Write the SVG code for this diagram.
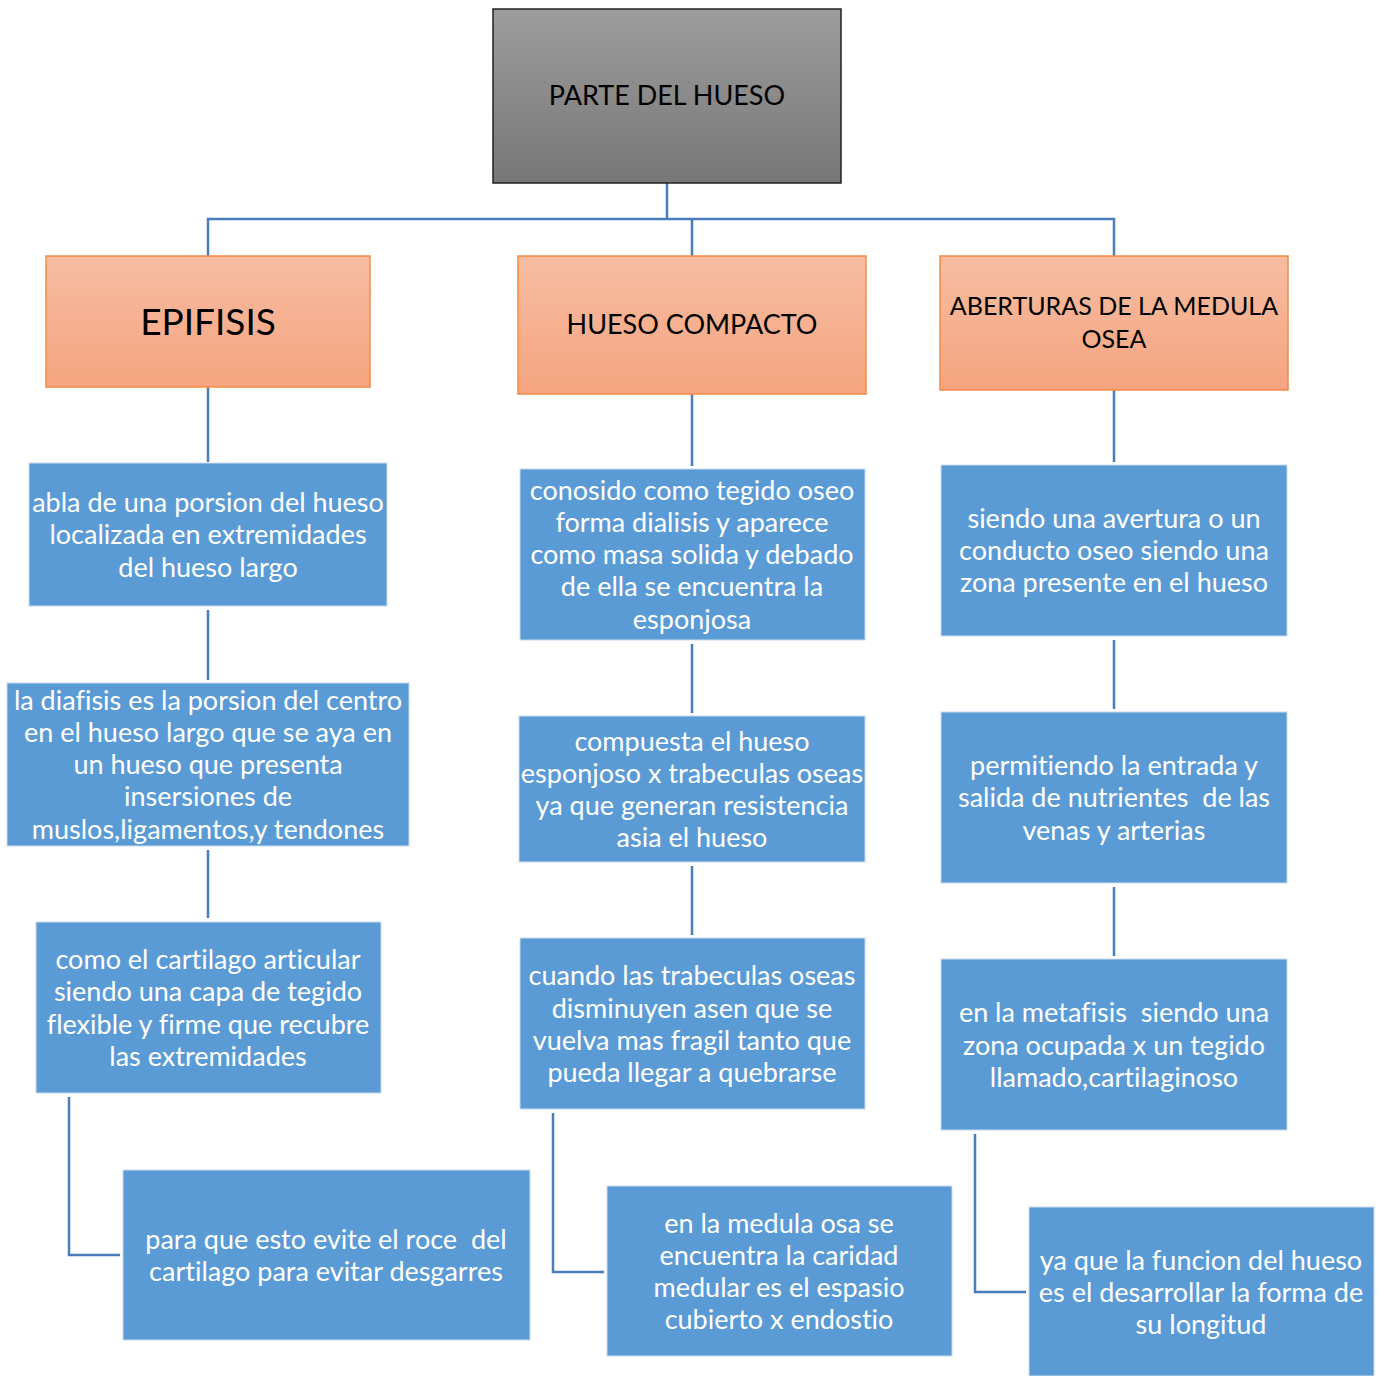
<svg xmlns="http://www.w3.org/2000/svg" width="1384" height="1376" viewBox="0 0 1384 1376">
<defs>
<linearGradient id="gray" x1="0" y1="0" x2="0" y2="1"><stop offset="0" stop-color="#9d9d9d"/><stop offset="1" stop-color="#777777"/></linearGradient>
<linearGradient id="orange" x1="0" y1="0" x2="0" y2="1"><stop offset="0" stop-color="#f6bda2"/><stop offset="1" stop-color="#f5a47f"/></linearGradient>
<style>
.t{font-family:Lato,"Open Sans","Liberation Sans",sans-serif;text-anchor:middle;dominant-baseline:central;white-space:pre;font-variant-ligatures:none}
.w{fill:#ffffff;font-size:27px}
.k{fill:#000000}
.blue{fill:#5b9bd5;stroke:#c9dcef;stroke-width:1}
.or{fill:url(#orange);stroke:#f08c46;stroke-width:1.5}
.c{fill:none;stroke:#4a7ebb;stroke-width:2.5}
</style>
</defs>
<g id="connectors">
<path class="c" d="M667 183V219M208 256V219H1114V256M692 219V256"/>
<path class="c" d="M208 387V462M208 610V680M208 850V918M69 1097V1255H120"/>
<path class="c" d="M692 394V466M692 644V713M692 866V935M553 1113V1272H604"/>
<path class="c" d="M1114 390V462M1114 640V709M1114 887V956M975 1134V1292H1026"/>
</g>
<g id="root"><rect x="493" y="9" width="348" height="174" fill="url(#gray)" stroke="#222" stroke-width="1.5"/><text class="t k" x="667" y="94" font-size="27">PARTE DEL HUESO</text></g>
<g id="epifisis"><rect class="or" x="46" y="256" width="324" height="131"/><text class="t k" x="208" y="320" font-size="37">EPIFISIS</text></g>
<g id="compacto"><rect class="or" x="518" y="256" width="348" height="138"/><text class="t k" x="692" y="323" font-size="27">HUESO COMPACTO</text></g>
<g id="aberturas"><rect class="or" x="940" y="256" width="348" height="134"/><text class="t k" x="1114" y="305" font-size="25">ABERTURAS DE LA MEDULA</text><text class="t k" x="1114" y="338" font-size="25">OSEA</text></g>
<g id="l1"><rect class="blue" x="29" y="463" width="358" height="143"/><text class="t w"><tspan x="208" y="501">abla de una porsion del hueso</tspan><tspan x="208" y="533">localizada en extremidades</tspan><tspan x="208" y="566">del hueso largo</tspan></text></g>
<g id="l2"><rect class="blue" x="7" y="683" width="402" height="163"/><text class="t w"><tspan x="208" y="699">la diafisis es la porsion del centro</tspan><tspan x="208" y="731">en el hueso largo que se aya en</tspan><tspan x="208" y="763">un hueso que presenta</tspan><tspan x="208" y="795">insersiones de</tspan><tspan x="208" y="828">muslos,ligamentos,y tendones</tspan></text></g>
<g id="l3"><rect class="blue" x="36" y="922" width="345" height="171"/><text class="t w"><tspan x="208" y="958">como el cartilago articular</tspan><tspan x="208" y="990">siendo una capa de tegido</tspan><tspan x="208" y="1023">flexible y firme que recubre</tspan><tspan x="208" y="1055">las extremidades</tspan></text></g>
<g id="l4"><rect class="blue" x="123" y="1170" width="407" height="170"/><text class="t w"><tspan x="326" y="1238">para que esto evite el roce  del</tspan><tspan x="326" y="1270">cartilago para evitar desgarres</tspan></text></g>
<g id="m1"><rect class="blue" x="520" y="469" width="345" height="171"/><text class="t w"><tspan x="692" y="489">conosido como tegido oseo</tspan><tspan x="692" y="521">forma dialisis y aparece</tspan><tspan x="692" y="553">como masa solida y debado</tspan><tspan x="692" y="585">de ella se encuentra la</tspan><tspan x="692" y="618">esponjosa</tspan></text></g>
<g id="m2"><rect class="blue" x="519" y="716" width="346" height="146"/><text class="t w"><tspan x="692" y="740">compuesta el hueso</tspan><tspan x="692" y="772">esponjoso x trabeculas oseas</tspan><tspan x="692" y="804">ya que generan resistencia</tspan><tspan x="692" y="836">asia el hueso</tspan></text></g>
<g id="m3"><rect class="blue" x="520" y="938" width="345" height="171"/><text class="t w"><tspan x="692" y="974">cuando las trabeculas oseas</tspan><tspan x="692" y="1007">disminuyen asen que se</tspan><tspan x="692" y="1039">vuelva mas fragil tanto que</tspan><tspan x="692" y="1071">pueda llegar a quebrarse</tspan></text></g>
<g id="m4"><rect class="blue" x="607" y="1186" width="345" height="170"/><text class="t w"><tspan x="779" y="1222">en la medula osa se</tspan><tspan x="779" y="1254">encuentra la caridad</tspan><tspan x="779" y="1286">medular es el espasio</tspan><tspan x="779" y="1318">cubierto x endostio</tspan></text></g>
<g id="r1"><rect class="blue" x="941" y="465" width="346" height="171"/><text class="t w"><tspan x="1114" y="517">siendo una avertura o un</tspan><tspan x="1114" y="549">conducto oseo siendo una</tspan><tspan x="1114" y="581">zona presente en el hueso</tspan></text></g>
<g id="r2"><rect class="blue" x="941" y="712" width="346" height="171"/><text class="t w"><tspan x="1114" y="764">permitiendo la entrada y</tspan><tspan x="1114" y="796">salida de nutrientes  de las</tspan><tspan x="1114" y="829">venas y arterias</tspan></text></g>
<g id="r3"><rect class="blue" x="941" y="959" width="346" height="171"/><text class="t w"><tspan x="1114" y="1011">en la metafisis  siendo una</tspan><tspan x="1114" y="1044">zona ocupada x un tegido</tspan><tspan x="1114" y="1076">llamado,cartilaginoso</tspan></text></g>
<g id="r4"><rect class="blue" x="1029" y="1207" width="345" height="169"/><text class="t w"><tspan x="1201" y="1259">ya que la funcion del hueso</tspan><tspan x="1201" y="1291">es el desarrollar la forma de</tspan><tspan x="1201" y="1323">su longitud</tspan></text></g>
</svg>
